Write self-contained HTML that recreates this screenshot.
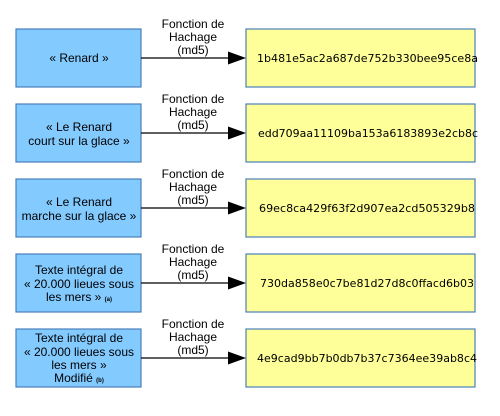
<!DOCTYPE html>
<html><head><meta charset="utf-8"><style>
html,body{margin:0;padding:0;background:#fff;width:500px;height:416px;overflow:hidden}
text{font-family:"Liberation Sans",sans-serif;font-size:12px;fill:#000}
.b{fill:#83caff;stroke:#4a7ebb;stroke-width:1.2}
.y{fill:#ffff99;stroke:#4a7ebb;stroke-width:1.2}
.h{font-family:"DejaVu Sans",sans-serif;font-size:11px}
.s{font-size:6px;font-weight:bold}
</style></head><body>
<svg width="500" height="416" viewBox="0 0 500 416" xmlns="http://www.w3.org/2000/svg">
<defs>
<g id="arr">
<line x1="141" y1="0" x2="230" y2="0" stroke="#000" stroke-width="1.3"/>
<polygon points="228,-6.5 246,0 228,6.5" fill="#000"/>
<text x="193" y="-30" text-anchor="middle">Fonction de</text>
<text x="193" y="-17" text-anchor="middle">Hachage</text>
<text x="193" y="-4" text-anchor="middle">(md5)</text>
</g>
</defs>
<!-- row 1 -->
<rect class="b" x="16" y="29" width="125" height="58"/>
<rect class="y" x="246" y="29" width="229" height="58"/>
<use href="#arr" transform="translate(0,58)"/>
<text x="79" y="62" text-anchor="middle">« Renard »</text>
<text class="h" x="257" y="62" textLength="221" lengthAdjust="spacingAndGlyphs">1b481e5ac2a687de752b330bee95ce8a</text>
<!-- row 2 -->
<rect class="b" x="16" y="104" width="125" height="58"/>
<rect class="y" x="246" y="104" width="229" height="58"/>
<use href="#arr" transform="translate(0,133)"/>
<text x="79" y="131" text-anchor="middle">« Le Renard</text>
<text x="79" y="145" text-anchor="middle">court sur la glace »</text>
<text class="h" x="258" y="137" textLength="220" lengthAdjust="spacingAndGlyphs">edd709aa11109ba153a6183893e2cb8c</text>
<!-- row 3 -->
<rect class="b" x="16" y="179" width="125" height="58"/>
<rect class="y" x="246" y="179" width="229" height="58"/>
<use href="#arr" transform="translate(0,208)"/>
<text x="79" y="206" text-anchor="middle">« Le Renard</text>
<text x="79" y="220" text-anchor="middle">marche sur la glace »</text>
<text class="h" x="259" y="212" textLength="216" lengthAdjust="spacingAndGlyphs">69ec8ca429f63f2d907ea2cd505329b8</text>
<!-- row 4 -->
<rect class="b" x="16" y="254" width="125" height="58"/>
<rect class="y" x="246" y="254" width="229" height="58"/>
<use href="#arr" transform="translate(0,283)"/>
<text x="79" y="274" text-anchor="middle">Texte intégral de</text>
<text x="79" y="288" text-anchor="middle">« 20.000 lieues sous</text>
<text x="79" y="301" text-anchor="middle">les mers » <tspan class="s">(a)</tspan></text>
<text class="h" x="260" y="287" textLength="214" lengthAdjust="spacingAndGlyphs">730da858e0c7be81d27d8c0ffacd6b03</text>
<!-- row 5 -->
<rect class="b" x="16" y="329" width="125" height="58"/>
<rect class="y" x="246" y="329" width="229" height="58"/>
<use href="#arr" transform="translate(0,358)"/>
<text x="79" y="342" text-anchor="middle">Texte intégral de</text>
<text x="79" y="356" text-anchor="middle">« 20.000 lieues sous</text>
<text x="79" y="369" text-anchor="middle">les mers »</text>
<text x="79" y="382" text-anchor="middle">Modifié <tspan class="s">(b)</tspan></text>
<text class="h" x="257" y="362" textLength="220" lengthAdjust="spacingAndGlyphs">4e9cad9bb7b0db7b37c7364ee39ab8c4</text>
</svg>
</body></html>
